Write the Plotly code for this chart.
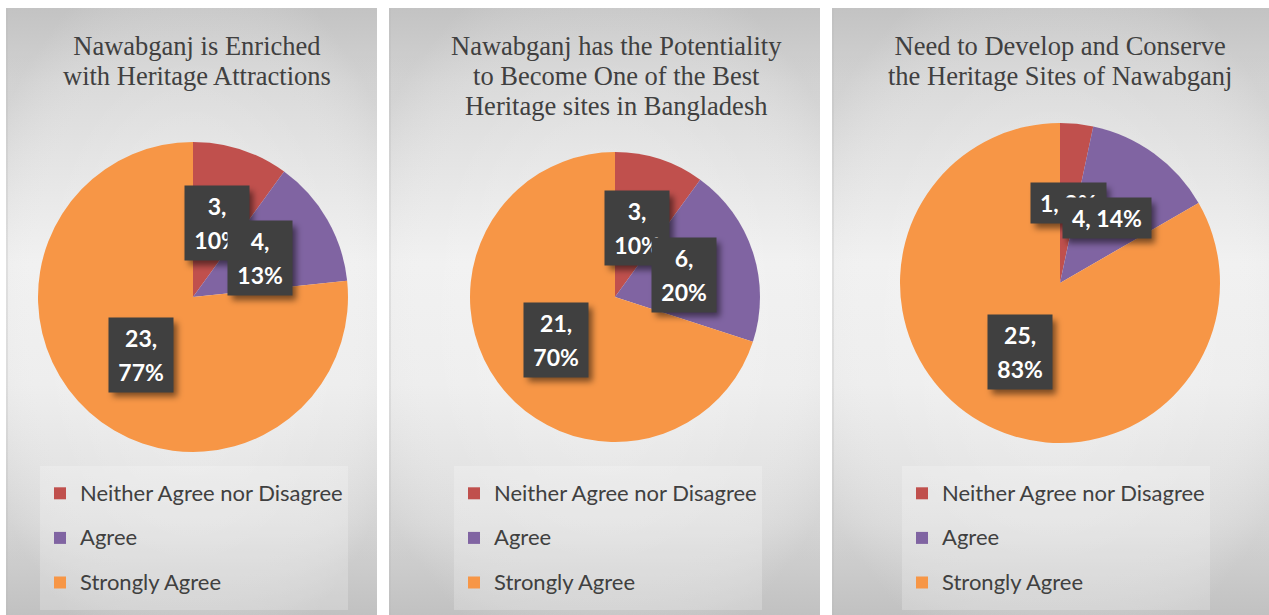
import base64
import math
import plotly.graph_objects as go

# ---------------- data ----------------
categories = ["Neither Agree nor Disagree", "Agree", "Strongly Agree"]

title_1 = ["Nawabganj is Enriched", "with Heritage Attractions"]
title_2 = ["Nawabganj has the Potentiality", "to Become One of the Best", "Heritage sites in Bangladesh"]
title_3 = ["Need to Develop and Conserve", "the Heritage Sites of Nawabganj"]

values_1 = [3, 4, 23]
values_2 = [3, 6, 21]
values_3 = [1, 4, 25]

percent_1 = [10, 13, 77]
percent_2 = [10, 20, 70]
percent_3 = [3, 14, 83]

# whether a data label wraps onto two lines
wrap_1 = [True, True, True]
wrap_2 = [True, True, True]
wrap_3 = [False, False, True]

# ---------------- style / layout ----------------
W, H = 1269, 615
colors = ["#C0504D", "#8064A2", "#F79646"]
panels_x = [(6, 377), (389, 820), (832, 1269)]
panel_top = 8
pie_geom = [(193, 297, 155), (615, 297, 145), (1060, 283, 160)]  # cx, cy, r (px)
title_cx = [197, 616, 1060]
title_top = 30
legend_left = [40, 454, 902]
legend_top = 466
LABEL_PX = 23
# distinct (visually identical) span styles so each pie keeps its own legend entries
legend_styles = [
    "font-size:22px;baseline-shift:5px",
    "font-size:22px;baseline-shift:5px;font-style:normal",
    "font-size:22px;baseline-shift:5px;font-style:normal;font-weight:normal",
]


def px_x(x):
    return x / W


def px_y(y):
    return 1 - y / H


def svg_uri(svg):
    return "data:image/svg+xml;base64," + base64.b64encode(svg.encode()).decode()


def panel_svg(w, h):
    return (
        f"<svg xmlns='http://www.w3.org/2000/svg' width='{w}' height='{h}' viewBox='0 0 {w} {h}' preserveAspectRatio='none'>"
        "<defs><linearGradient id='g' x1='0' y1='0' x2='0' y2='1'>"
        "<stop offset='0' stop-color='#cbcbcb'/>"
        "<stop offset='0.12' stop-color='#dadada'/>"
        "<stop offset='0.42' stop-color='#f1f1f1'/>"
        "<stop offset='0.62' stop-color='#eeeeee'/>"
        "<stop offset='0.85' stop-color='#dddddd'/>"
        "<stop offset='1' stop-color='#c9c9c9'/>"
        "</linearGradient>"
        "<radialGradient id='r' cx='50%' cy='50%' r='60%'>"
        "<stop offset='0' stop-color='#ffffff' stop-opacity='0.35'/>"
        "<stop offset='0.7' stop-color='#ffffff' stop-opacity='0.0'/>"
        "<stop offset='1' stop-color='#000000' stop-opacity='0.04'/>"
        "</radialGradient></defs>"
        f"<rect width='{w}' height='{h}' fill='url(#g)'/>"
        f"<rect width='{w}' height='{h}' fill='url(#r)'/>"
        "<rect x='0.5' y='0.5' width='1' height='100%' fill='#bdbdbd' fill-opacity='0.6'/>"
        "</svg>"
    )


def shadow_svg(w, h, m):
    return (
        f"<svg xmlns='http://www.w3.org/2000/svg' width='{w + 2 * m}' height='{h + 2 * m}'>"
        "<defs><filter id='b' x='-50%' y='-50%' width='200%' height='200%'>"
        "<feGaussianBlur stdDeviation='3'/></filter></defs>"
        f"<rect x='{m}' y='{m}' width='{w}' height='{h}' fill='#000' fill-opacity='0.5' filter='url(#b)'/>"
        "</svg>"
    )


CHAR_EM = {",": 0.25, " ": 0.2, "%": 0.85}


def text_width(s):
    return sum(CHAR_EM.get(c, 0.58) for c in s) * LABEL_PX


def legend_label(c, k):
    return f"<span style='{legend_styles[k]}'>{c}</span>"


fig = go.Figure()
images = []
annotations = []

all_values = [values_1, values_2, values_3]
all_pct = [percent_1, percent_2, percent_3]
all_wrap = [wrap_1, wrap_2, wrap_3]
all_titles = [title_1, title_2, title_3]
legend_ids = ["legend", "legend2", "legend3"]

for i in range(3):
    x0, x1 = panels_x[i]
    images.append(dict(
        source=svg_uri(panel_svg(x1 - x0, H - panel_top)),
        xref="paper", yref="paper", x=px_x(x0), y=px_y(panel_top),
        sizex=(x1 - x0) / W, sizey=(H - panel_top) / H,
        xanchor="left", yanchor="top", sizing="stretch", layer="below",
    ))

    cx, cy, r = pie_geom[i]
    vals = all_values[i]
    fig.add_trace(go.Pie(
        labels=[legend_label(c, i) for c in categories],
        values=vals,
        sort=False,
        direction="clockwise",
        rotation=0,
        textinfo="none",
        marker=dict(colors=colors, line=dict(width=0)),
        domain=dict(x=[px_x(cx - r), px_x(cx + r)], y=[px_y(cy + r), px_y(cy - r)]),
        legend=legend_ids[i],
        hoverinfo="value+percent",
    ))

    # title
    annotations.append(dict(
        text="<br>".join(f"<span style='font-size:26.5px'>{ln}</span>" for ln in all_titles[i]),
        xref="paper", yref="paper", x=px_x(title_cx[i]), y=px_y(title_top),
        xanchor="center", yanchor="top", showarrow=False, borderpad=0,
        font=dict(family="Liberation Serif", size=23, color="#404040"),
    ))

    # data labels placed at half radius along slice mid angles
    total = sum(vals)
    cum = 0
    for j, v in enumerate(vals):
        mid = (cum + v / 2) / total * 360.0
        cum += v
        ang = math.radians(mid)
        bx = cx + 0.5 * r * math.sin(ang)
        by = cy - 0.5 * r * math.cos(ang)
        if all_wrap[i][j]:
            lines = [f"{v},", f"{all_pct[i][j]}%"]
        else:
            lines = [f"{v}, {all_pct[i][j]}%"]
        bw = max(text_width(ln) for ln in lines) + 18
        bh = 34 * len(lines) + 6
        m, dx, dy = 12, 4, 5
        images.append(dict(
            source=svg_uri(shadow_svg(round(bw), round(bh), m)),
            xref="paper", yref="paper",
            x=px_x(bx - bw / 2 + dx - m), y=px_y(by - bh / 2 + dy - m),
            sizex=(bw + 2 * m) / W, sizey=(bh + 2 * m) / H,
            xanchor="left", yanchor="top", sizing="stretch", layer="above",
        ))
        annotations.append(dict(
            text="<br>".join(f"<span style='font-size:{LABEL_PX}px'>{ln}</span>" for ln in lines),
            xref="paper", yref="paper", x=px_x(bx), y=px_y(by),
            xanchor="center", yanchor="middle", showarrow=False,
            width=bw - 6, height=bh - 6, borderpad=3, align="center", valign="middle",
            bgcolor="#404040",
            font=dict(family="Lato", size=26, color="white", weight="bold"),
        ))

legend_common = dict(
    xanchor="left", yanchor="top", bgcolor="rgba(255,255,255,0.22)",
    font=dict(family="Lato", size=32, color="#404040"),
    traceorder="normal", borderwidth=0,
)
layout_legends = {}
for i, lid in enumerate(legend_ids):
    layout_legends[lid] = dict(legend_common, x=px_x(legend_left[i]), y=px_y(legend_top))

fig.update_layout(
    width=W, height=H,
    margin=dict(l=0, r=0, t=0, b=0),
    paper_bgcolor="white",
    plot_bgcolor="white",
    images=images,
    annotations=annotations,
    showlegend=True,
    **layout_legends,
)

fig.write_html("out.html")
